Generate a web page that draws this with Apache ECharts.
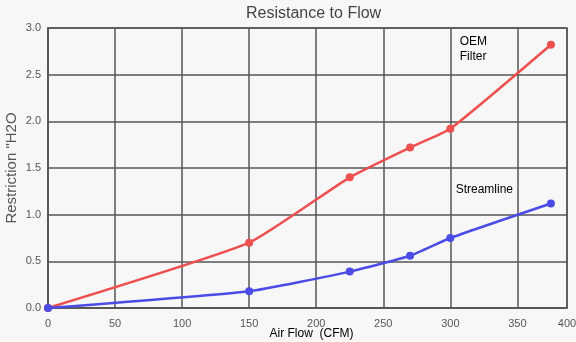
<!DOCTYPE html>
<html>
<head>
<meta charset="utf-8">
<script src="https://cdn.jsdelivr.net/npm/echarts@6/dist/echarts.min.js"></script>
<style>
  html, body { margin: 0; padding: 0; background: #f7f7f7; }
  #chart { width: 576px; height: 342px; }
</style>
</head>
<body>
<div id="chart"></div>
<script>
// Air flow (CFM) at which each restriction was measured
const airFlow = [0, 150, 225, 270, 300, 375];
// Restriction in inches of water
const oemFilter = [0, 0.7, 1.4, 1.72, 1.92, 2.82];
const streamline = [0, 0.18, 0.39, 0.56, 0.75, 1.12];

const xMax = 387;      // right edge of the plot
const xEdgeLabel = '400';

const gridColor = '#565656';
const tickColor = '#555';
const font = 'Liberation Sans, Arial, sans-serif';

const pairs = (xs, ys) => xs.map((x, i) => [x, ys[i]]);

const chart = echarts.init(document.getElementById('chart'), null, { renderer: 'canvas' });
chart.setOption({
  backgroundColor: '#f7f7f7',
  animation: false,
  title: {
    text: 'Resistance to Flow',
    left: 241,
    top: 1,
    textStyle: { fontFamily: font, fontSize: 16, fontWeight: 'normal', color: '#444' }
  },
  grid: {
    left: 48, right: 9, top: 28, bottom: 34,
    outerBoundsMode: 'none',
    containLabel: false,
    show: true, borderColor: gridColor, borderWidth: 1.5
  },
  xAxis: {
    type: 'value',
    min: 0,
    max: xMax,
    interval: 50,
    name: 'Air Flow  (CFM)',
    nameLocation: 'middle',
    nameGap: 20,
    nameMoveOverlap: false,
    nameTextStyle: { fontFamily: font, fontSize: 12, color: '#000', padding: [0, 0, 0, 8] },
    axisLine: { show: true, lineStyle: { color: gridColor, width: 1.5 } },
    axisTick: { show: false },
    axisLabel: {
      margin: 10,
      fontFamily: font,
      fontSize: 11,
      color: tickColor,
      showMaxLabel: true,
      formatter: v => (v === xMax ? xEdgeLabel : String(v))
    },
    splitLine: { show: true, lineStyle: { color: gridColor, width: 1.5 } }
  },
  yAxis: {
    type: 'value',
    min: 0,
    max: 3,
    interval: 0.5,
    name: 'Restriction "H2O',
    nameLocation: 'middle',
    nameGap: 29,
    nameMoveOverlap: false,
    nameTextStyle: { fontFamily: font, fontSize: 15, color: '#555' },
    axisLine: { show: true, lineStyle: { color: gridColor, width: 1.5 } },
    axisTick: { show: false },
    axisLabel: {
      margin: 7,
      fontFamily: font,
      fontSize: 11,
      color: tickColor,
      formatter: v => v.toFixed(1)
    },
    splitLine: { show: true, lineStyle: { color: gridColor, width: 1.5 } }
  },
  series: [
    {
      name: 'OEM Filter',
      type: 'line',
      data: pairs(airFlow, oemFilter),
      smooth: 0.15,
      symbol: 'circle',
      symbolSize: 8,
      lineStyle: { color: '#ee4f4f', width: 2.5 },
      itemStyle: { color: '#ee4f4f' },
      markPoint: {
        symbol: 'circle',
        symbolSize: 0,
        data: [{ coord: [307, 2.93], value: 'OEM\nFilter' }],
        label: {
          show: true,
          position: 'inside',
          align: 'left',
          verticalAlign: 'top',
          lineHeight: 15,
          fontFamily: font,
          fontSize: 12,
          color: '#000',
          formatter: p => p.value
        }
      }
    },
    {
      name: 'Streamline',
      type: 'line',
      data: pairs(airFlow, streamline),
      smooth: 0.15,
      symbol: 'circle',
      symbolSize: 8,
      lineStyle: { color: '#4b4be6', width: 2.5 },
      itemStyle: { color: '#4b4be6' },
      markPoint: {
        symbol: 'circle',
        symbolSize: 0,
        data: [{ coord: [304, 1.27], value: 'Streamline' }],
        label: {
          show: true,
          position: 'inside',
          align: 'left',
          verticalAlign: 'middle',
          fontFamily: font,
          fontSize: 12,
          color: '#000',
          formatter: p => p.value
        }
      }
    }
  ]
});
</script>
</body>
</html>
